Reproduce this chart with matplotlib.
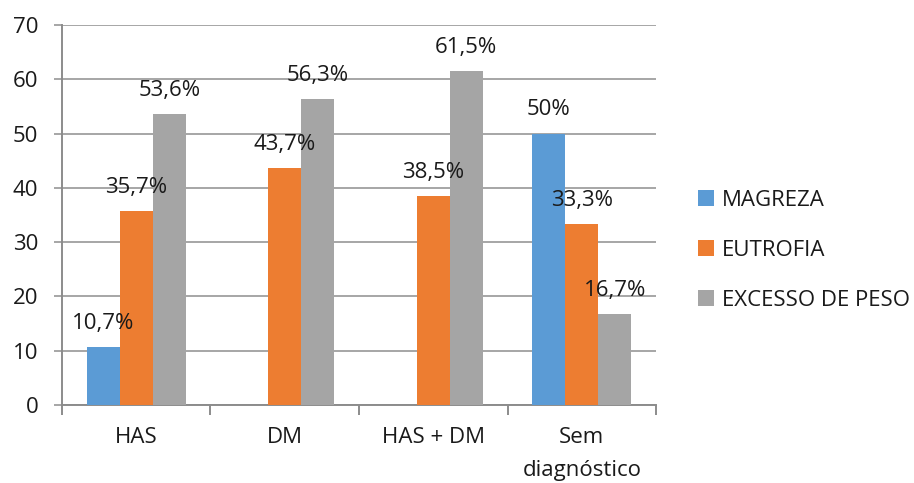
import matplotlib
matplotlib.use("Agg")
import matplotlib.pyplot as plt
import numpy as np
from matplotlib.patches import Patch

plt.rcParams['font.family'] = ['Open Sans', 'DejaVu Sans']

categories = ["HAS", "DM", "HAS + DM", "Sem\ndiagnóstico"]
series_names = ["MAGREZA", "EUTROFIA", "EXCESSO DE PESO"]
magreza = [10.7, None, None, 50.0]
eutrofia = [35.7, 43.7, 38.5, 33.3]
excesso = [53.6, 56.3, 61.5, 16.7]
colors = ["#5B9BD5", "#ED7D31", "#A5A5A5"]
yticks = [0, 10, 20, 30, 40, 50, 60, 70]

FS = 16


def fmt(v):
    s = f"{v:.1f}".replace(".", ",")
    if s.endswith(",0"):
        s = s[:-2]
    return s + "%"


fig = plt.figure(figsize=(9.14, 4.83), dpi=100)
ax = fig.add_axes([0.0678, 0.1615, 0.65, 0.7865])

x = np.arange(len(categories))
width = 1 / 4.5
offsets = [-width, 0, width]

for vals, off, col in zip([magreza, eutrofia, excesso], offsets, colors):
    for xi, v in zip(x, vals):
        if v is None:
            continue
        ax.bar(xi + off, v, width, color=col, zorder=3)
        ax.annotate(fmt(v), (xi + off, v), xytext=(0, 9.5), textcoords="offset points",
                    ha="center", va="bottom", fontsize=FS, color="#1a1a1a", zorder=4)

ax.set_xlim(-0.5, len(categories) - 0.5)
ax.set_ylim(0, 70)
ax.set_yticks(yticks)
ax.set_yticklabels([str(t) for t in yticks], fontsize=FS, color="#1a1a1a")
ax.yaxis.grid(True, color="#a6a6a6", linewidth=1.4, zorder=0)
ax.set_axisbelow(True)

# category labels centred, tick marks at category boundaries
ax.set_xticks(x)
ax.set_xticklabels(categories, fontsize=FS, color="#1a1a1a", linespacing=1.75)
ax.tick_params(axis="x", which="major", length=0, pad=16)
ax.set_xticks(np.arange(-0.5, len(categories)), minor=True)
ax.tick_params(axis="x", which="minor", length=7, width=1.4, color="#8c8c8c", direction="out")
ax.tick_params(axis="y", length=6, width=1.4, color="#a6a6a6", direction="out", pad=11)

for side in ["top", "right"]:
    ax.spines[side].set_visible(False)
for side in ["left", "bottom"]:
    ax.spines[side].set_color("#8c8c8c")
    ax.spines[side].set_linewidth(1.4)

handles = [Patch(facecolor=c, edgecolor="none") for c in colors]
fig.legend(handles, series_names, loc="center left", bbox_to_anchor=(0.764, 0.482),
           frameon=False, fontsize=FS, handlelength=0.7, handleheight=0.7,
           handletextpad=0.35, labelspacing=1.3, borderpad=0, borderaxespad=0,
           labelcolor="#1a1a1a")

fig.savefig("out.png", dpi=100)
